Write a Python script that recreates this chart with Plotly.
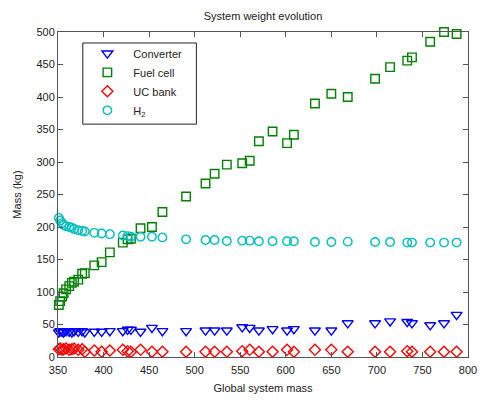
import plotly.graph_objects as go

mass = [350.9, 352.4, 354.5, 356.2, 358.8, 362.3, 365.2, 367.6, 372.2, 376.5,
        379.4, 389.8, 397.9, 406.9, 421.1, 426.4, 430.0, 440.6, 453.1, 464.6,
        490.6, 511.9, 521.9, 535.3, 552.2, 560.4, 570.5, 585.5, 601.4, 608.9,
        632.0, 650.0, 668.0, 698.0, 714.5, 733.3, 738.5, 758.5, 773.7, 787.5]

converter = [38, 40, 39, 38, 40, 39, 38, 40, 39, 40,
             38, 39, 39, 40, 40, 42, 42, 39, 45, 40,
             40, 41, 41, 41, 46, 45, 41, 43, 41, 43,
             41, 41, 52, 52, 55, 54, 52, 49, 52, 65]

fuel_cell = [80, 86, 93, 98, 104, 109, 114, 116, 119, 128,
             129, 141, 146, 161, 176, 181, 182, 198, 200, 223,
             247, 267, 282, 296, 298, 302, 332, 347, 329, 342,
             390, 405, 400, 428, 446, 456, 461, 485, 500, 497]

uc_bank = [12, 13, 11, 12, 13, 11, 12, 13, 11, 12,
           8, 10, 8, 10, 11, 9, 8, 11, 8, 8,
           8, 8, 8, 8, 9, 11, 8, 8, 11, 8,
           11, 11, 8, 8, 8, 9, 8, 8, 8, 8]

h2 = [214, 210, 206, 203, 201, 200, 199, 197, 195, 194,
      193, 191, 190, 189, 187, 186, 185, 185, 185, 184,
      181, 180, 180, 178.5, 179, 179, 178, 178, 178, 178,
      177, 177, 177.5, 177, 177, 176, 176, 176, 176, 176]

x_ticks = list(range(350, 801, 50))
y_ticks = list(range(0, 501, 50))

FONT = "Arial, Liberation Sans, sans-serif"

fig = go.Figure()
series = [
    ("Converter", converter, "triangle-down-open", "#0000FF", 9.5),
    ("Fuel cell", fuel_cell, "square-open", "#008000", 8.5),
    ("UC bank", uc_bank, "diamond-open", "#FF0000", 8.5),
    ("H<sub>2</sub>", h2, "circle-open", "#00BFBF", 8.5),
]
for name, vals, sym, col, sz in series:
    fig.add_trace(go.Scatter(
        x=mass, y=vals, mode="markers", name=name, cliponaxis=False,
        marker=dict(symbol=sym, size=sz, color=col, line=dict(width=1.4, color=col)),
    ))

axis_common = dict(
    showgrid=False, zeroline=False, showline=True, linecolor="#555", linewidth=1,
    mirror="ticks", ticks="inside", ticklen=5, tickcolor="#555",
    tickfont=dict(family=FONT, size=11, color="#222"),
)
fig.update_xaxes(range=[350, 800], tickvals=x_ticks, ticklabeloverflow="allow", ticklabelstandoff=3,
                 **axis_common,
                 title=dict(text="Global system mass", font=dict(family=FONT, size=11, color="#222"), standoff=9))
fig.update_yaxes(range=[0, 500], tickvals=y_ticks, **axis_common,
                 title=dict(text="Mass (kg)", font=dict(family=FONT, size=11, color="#222"), standoff=12))

fig.add_shape(type="rect", xref="paper", yref="paper", x0=0.0605, x1=0.3375, y0=0.7165, y1=0.9662,
              line=dict(color="#222", width=1), fillcolor="rgba(0,0,0,0)", layer="above")

fig.update_layout(
    width=487, height=403,
    margin=dict(l=58, r=10, t=32, b=37),
    paper_bgcolor="white", plot_bgcolor="white",
    title=dict(text="System weight evolution", x=0.5, xref="paper", y=1 - 16 / 403, yanchor="middle",
               font=dict(family=FONT, size=11, color="#222")),
    legend=dict(x=0.057, y=0.979, xanchor="left", yanchor="top", bgcolor="rgba(255,255,255,0)",
                borderwidth=0, itemwidth=42, font=dict(family=FONT, size=11, color="#222")),
    showlegend=True,
)

fig.write_html("out.html", config={"displayModeBar": False},
               post_script="document.body.style.margin='0px';")
